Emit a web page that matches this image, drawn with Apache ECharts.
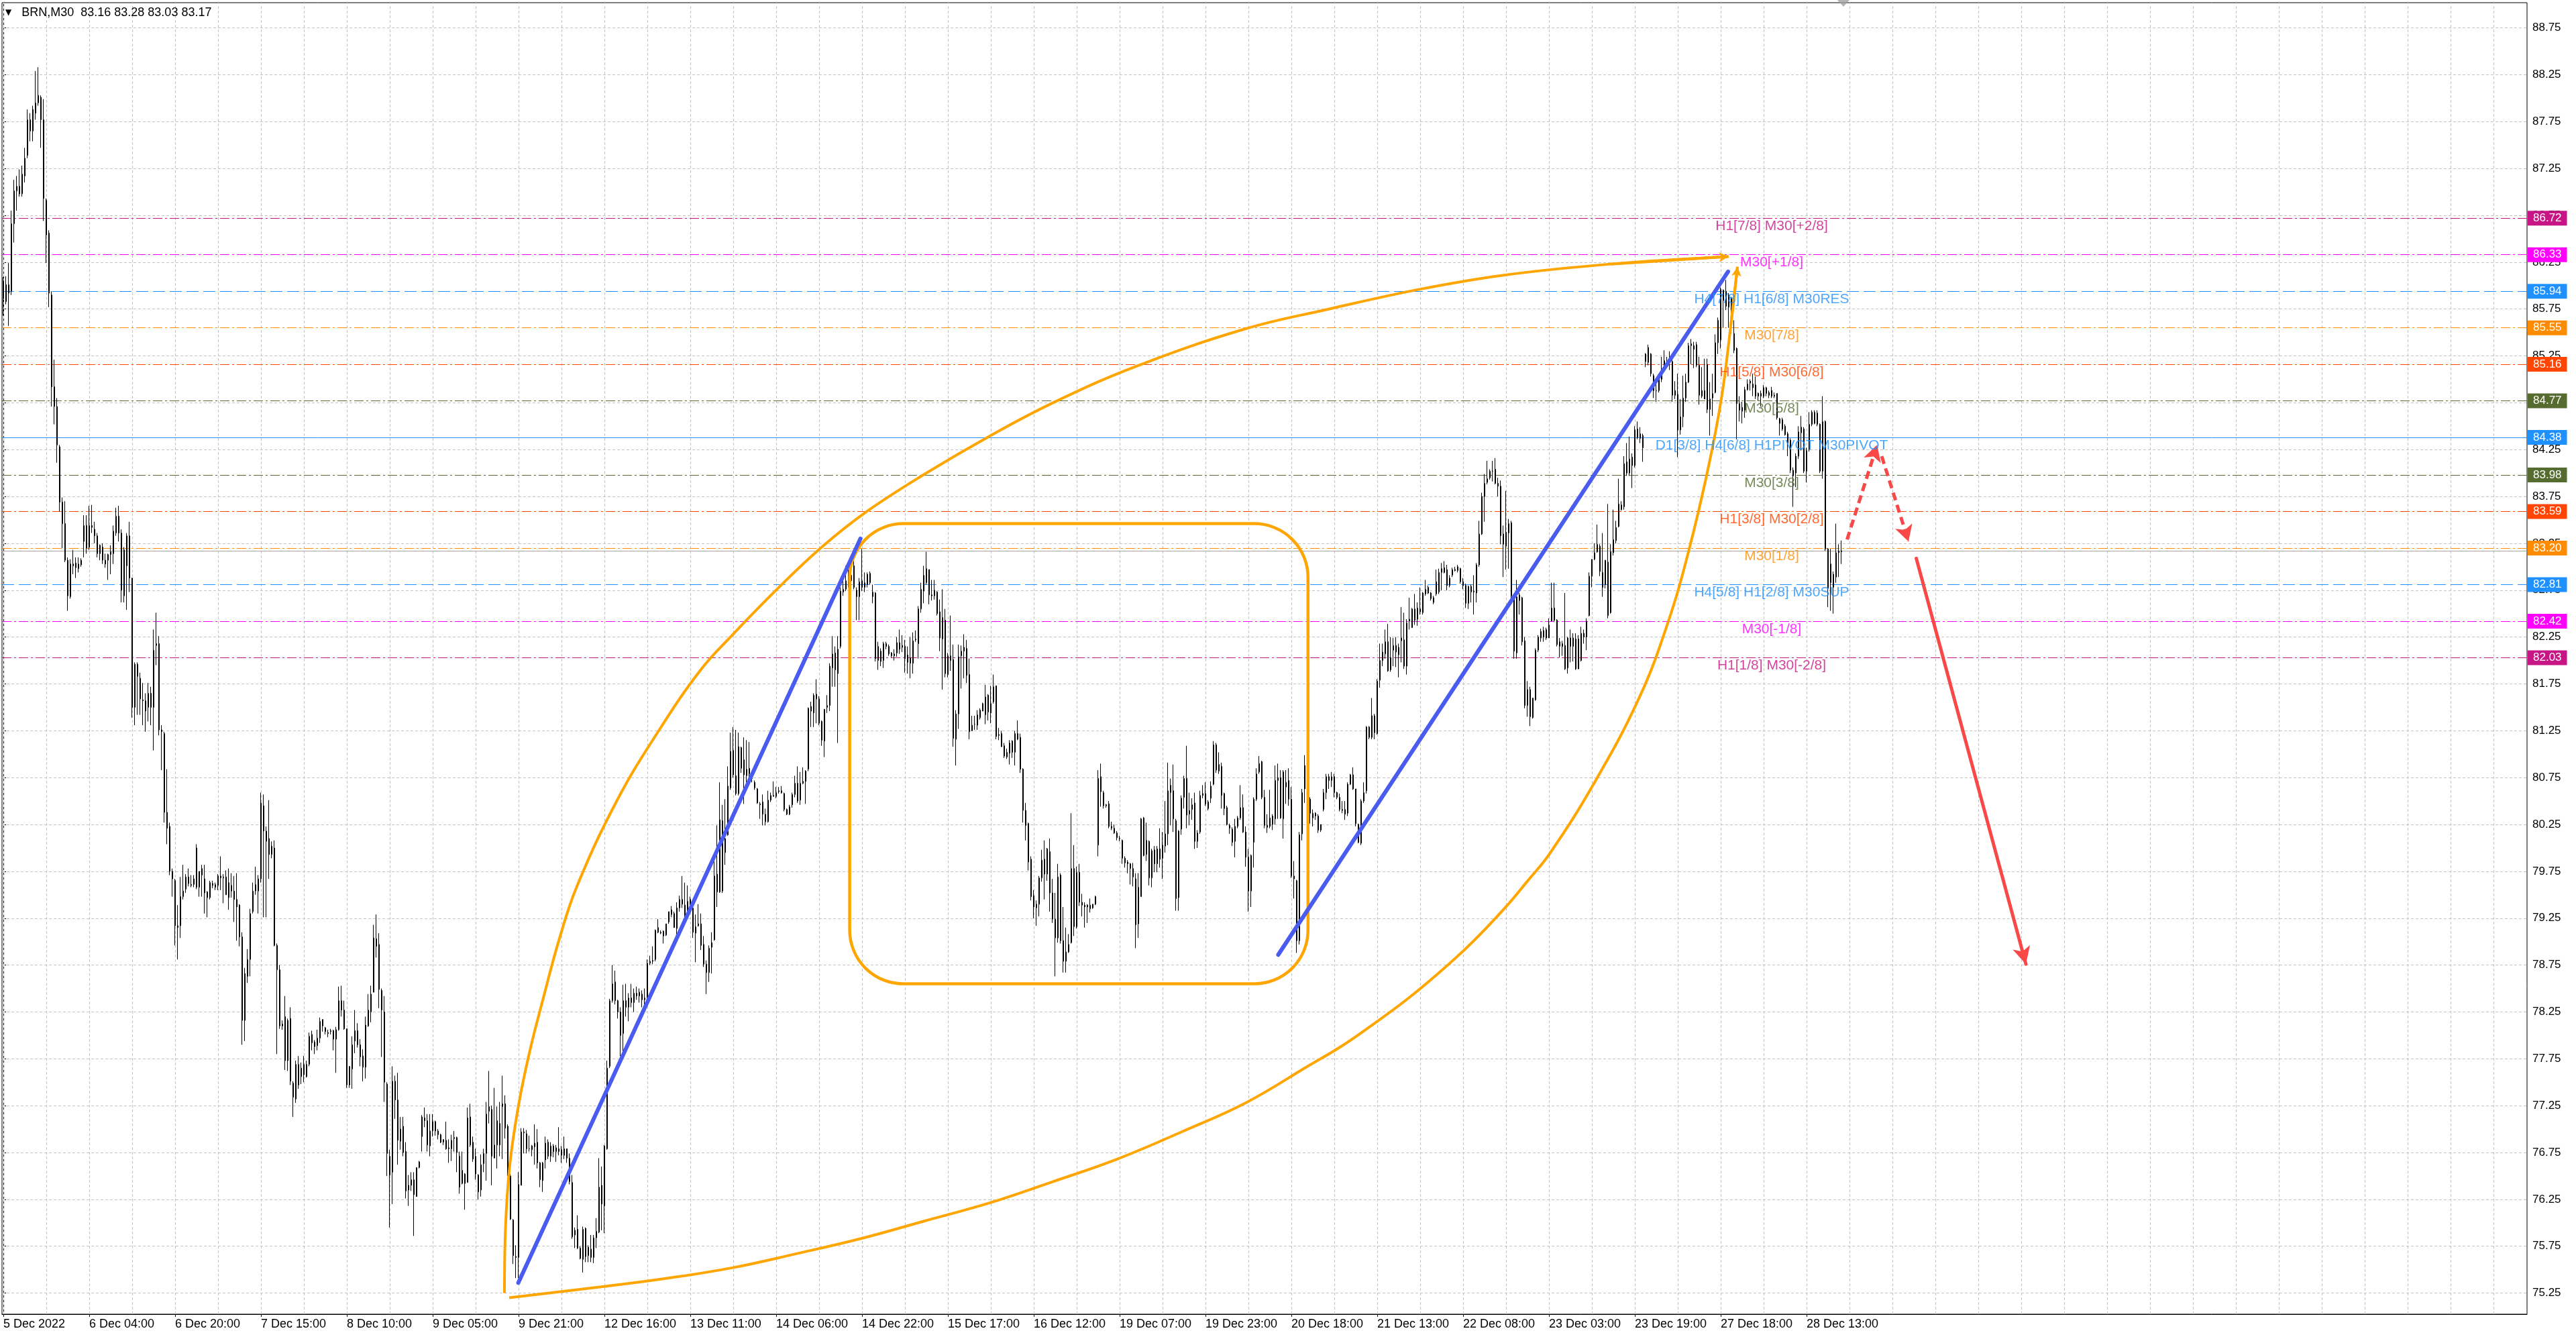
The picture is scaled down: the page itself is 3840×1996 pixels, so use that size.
<!DOCTYPE html>
<html>
<head>
<meta charset="utf-8">
<script src="https://cdn.jsdelivr.net/npm/echarts@6/dist/echarts.min.js"></script>
<style>html,body{margin:0;padding:0;background:#fff}#chart{width:3840px;height:1996px}</style>
</head>
<body>
<div id="chart"></div>
<script>
// ---------------- DATA ----------------
const symbolName = 'BRN,M30';
const xLabels = ['5 Dec 2022','6 Dec 04:00','6 Dec 20:00','7 Dec 15:00','8 Dec 10:00','9 Dec 05:00','9 Dec 21:00','12 Dec 16:00','13 Dec 11:00','14 Dec 06:00','14 Dec 22:00','15 Dec 17:00','16 Dec 12:00','19 Dec 07:00','19 Dec 23:00','20 Dec 18:00','21 Dec 13:00','22 Dec 08:00','23 Dec 03:00','23 Dec 19:00','27 Dec 18:00','28 Dec 13:00'];
const yTicks = [75.25,75.75,76.25,76.75,77.25,77.75,78.25,78.75,79.25,79.75,80.25,80.75,81.25,81.75,82.25,82.75,83.25,83.75,84.25,84.75,85.25,85.75,86.25,86.75,87.25,87.75,88.25,88.75];
// bars: [open, high, low, close]
const ohlc = [
[85.86,86.09,85.68,86.05],[86.01,86.10,85.80,85.83],[85.92,86.24,85.57,86.01],[85.94,86.80,85.90,86.66],[86.66,87.13,86.46,87.01],
[87.01,87.17,86.80,87.06],[87.06,87.24,86.95,86.98],[86.98,87.28,86.95,87.19],[87.17,87.47,87.10,87.36],[87.39,87.88,87.36,87.77],
[87.77,87.84,87.54,87.65],[87.65,87.92,87.54,87.88],[87.84,88.29,87.77,87.95],[87.95,88.33,87.92,88.03],[88.01,88.03,87.47,87.77],
[87.77,87.99,86.69,86.93],[86.91,86.93,86.24,86.54],[86.56,86.59,85.77,85.92],[85.90,85.94,84.71,84.92],[84.92,85.21,84.52,84.71],
[84.71,84.80,84.11,84.30],[84.28,84.30,83.59,83.69],[83.69,83.74,83.20,83.46],[83.46,83.70,83.05,83.07],[83.07,83.10,82.53,82.69],
[82.68,83.08,82.66,83.03],[83.03,83.18,82.92,83.01],[83.04,83.10,82.88,82.99],[82.98,83.10,82.94,83.03],[83.02,83.09,83.00,83.07],
[83.27,83.55,83.10,83.44],[83.44,83.55,83.14,83.20],[83.21,83.65,83.18,83.44],[83.44,83.66,83.36,83.42],[83.40,83.48,83.25,83.33],
[83.33,83.36,83.10,83.14],[83.14,83.24,83.07,83.23],[83.21,83.25,83.03,83.07],[83.07,83.14,82.99,83.03],[83.07,83.14,82.86,83.13],
[83.13,83.23,82.92,83.16],[83.14,83.44,83.03,83.38],[83.36,83.63,83.33,83.54],[83.54,83.65,83.27,83.36],[83.36,83.40,82.62,82.75],
[82.69,83.21,82.62,83.18],[83.01,83.36,82.54,83.33],[83.33,83.48,82.73,82.88],[82.88,82.88,81.39,81.50],[81.50,81.98,81.31,81.96],
[81.83,81.98,81.42,81.96],[81.81,81.87,81.42,81.59],[81.58,81.76,81.31,81.57],[81.57,81.65,81.24,81.46],[81.50,81.76,81.35,81.65],
[81.65,81.72,81.31,81.50],[81.50,82.33,81.04,82.11],[82.16,82.51,81.95,82.18],[82.18,82.26,81.20,81.26],[81.26,81.31,80.83,81.24],
[81.22,81.24,80.27,80.38],[80.38,80.84,80.04,80.21],[80.23,80.27,79.71,79.75],[79.75,79.78,79.48,79.67],[79.65,79.67,78.96,79.17],
[79.17,79.39,78.81,79.15],[79.17,79.69,79.04,79.48],[79.48,79.82,79.45,79.54],[79.56,79.72,79.52,79.69],[79.69,79.78,79.59,79.62],
[79.61,79.71,79.58,79.60],[79.61,79.71,79.58,79.67],[80.00,80.04,79.56,79.58],[79.58,79.75,79.48,79.75],[79.71,79.82,79.48,79.78],
[79.67,79.82,79.30,79.52],[79.53,79.54,79.26,79.47],[79.47,79.65,79.45,79.63],[79.62,79.65,79.57,79.60],[79.58,79.63,79.55,79.61],
[79.60,79.72,79.55,79.70],[79.70,79.91,79.55,79.68],[79.68,79.72,79.41,79.69],[79.69,79.76,79.50,79.50],[79.47,79.78,79.34,79.63],
[79.60,79.73,79.47,79.54],[79.54,79.70,79.21,79.45],[79.45,79.73,79.01,79.37],[79.39,79.40,78.95,79.05],[79.05,79.10,77.90,78.16],
[78.16,78.72,77.94,78.66],[78.63,78.92,78.56,78.81],[78.81,79.35,78.63,79.30],[79.32,79.63,79.30,79.54],[79.54,79.80,79.50,79.61],
[79.54,79.71,79.30,79.67],[79.67,80.59,79.63,80.48],[80.45,80.57,79.26,80.18],[80.07,80.23,79.26,80.18],[80.10,80.51,79.67,79.93],
[79.93,80.07,79.89,80.02],[80.00,80.08,78.95,78.96],[78.96,78.98,77.80,78.70],[78.70,78.75,78.07,78.10],[78.12,78.16,78.06,78.10],
[78.20,78.42,77.63,77.73],[77.73,78.18,77.62,78.16],[78.18,78.30,77.47,77.51],[77.49,77.51,77.13,77.34],[77.32,77.73,77.28,77.69],
[77.47,77.78,77.43,77.69],[77.65,77.71,77.48,77.56],[77.58,77.78,77.50,77.69],[77.69,77.73,77.55,77.56],[77.69,78.03,77.67,77.99],
[78.01,78.05,77.84,77.92],[77.88,77.95,77.80,77.93],[77.89,78.06,77.84,77.97],[77.97,78.19,77.92,78.15],[78.17,78.17,78.04,78.10],
[78.08,78.09,78.01,78.04],[78.03,78.06,77.98,78.02],[78.04,78.07,78.01,78.05],[78.05,78.06,77.84,77.96],[77.96,78.09,77.60,78.06],
[78.06,78.52,78.05,78.37],[78.37,78.53,78.20,78.27],[78.27,78.37,78.06,78.07],[78.07,78.07,77.44,77.47],[77.47,77.67,77.44,77.67],
[77.64,77.99,77.43,77.90],[77.94,78.27,77.81,78.05],[78.05,78.13,77.87,77.90],[77.90,77.96,77.67,77.77],[77.78,77.85,77.51,77.66],
[77.66,78.20,77.54,78.11],[78.10,78.44,78.09,78.27],[78.25,78.53,78.14,78.44],[78.46,79.18,78.46,79.04],[79.03,79.29,78.83,78.95],
[78.97,79.09,78.29,78.49],[78.48,78.50,77.77,78.27],[78.25,78.42,77.29,77.50],[77.48,77.50,76.50,76.74],[76.71,76.78,75.95,76.51],
[76.54,77.67,76.20,77.51],[77.51,77.57,77.11,77.31],[77.31,77.60,76.62,76.88],[76.87,77.13,76.78,77.00],[77.03,77.13,76.71,76.75],
[76.76,76.86,76.26,76.34],[76.35,76.51,76.18,76.40],[76.40,76.54,76.34,76.46],[76.46,76.54,75.86,76.30],[76.28,76.59,76.28,76.59],
[76.59,76.66,76.58,76.65],[76.92,77.15,76.76,77.13],[77.12,77.23,77.02,77.09],[77.09,77.16,76.76,76.83],[76.82,77.16,76.71,76.98],
[76.98,77.16,76.92,77.08],[77.08,77.09,76.93,76.98],[76.98,77.00,76.89,76.94],[76.94,76.95,76.85,76.86],[76.86,76.89,76.83,76.89],
[76.88,77.08,76.78,76.79],[76.80,76.89,76.64,76.79],[76.79,76.94,76.66,76.88],[76.91,76.98,76.76,76.90],[76.91,76.92,76.54,76.75],
[76.71,76.76,76.31,76.38],[76.42,76.76,76.41,76.56],[76.52,76.53,76.14,76.42],[76.43,77.23,76.43,77.12],[77.13,77.27,76.81,76.83],
[76.86,76.92,76.65,76.68],[76.71,76.79,76.46,76.52],[76.51,76.52,76.25,76.33],[76.35,76.73,76.28,76.62],[76.63,76.79,76.54,76.74],
[76.74,77.29,76.45,77.16],[77.19,77.62,77.06,77.24],[77.21,77.25,76.40,76.71],[76.69,77.44,76.69,76.83],[76.83,77.24,76.58,77.09],
[77.06,77.29,76.71,76.83],[77.27,77.57,76.68,77.24],[77.27,77.36,76.90,77.01],[77.03,77.05,76.50,76.50],[76.50,76.52,76.03,76.04],
[76.03,76.04,75.56,75.65],[75.64,75.76,75.41,75.63],[75.63,76.54,75.41,76.41],[76.40,77.01,76.40,76.97],[76.97,77.01,76.74,76.96],
[76.95,76.99,76.74,76.79],[76.79,76.93,76.76,76.79],[76.78,76.83,76.71,76.82],[76.81,77.05,76.62,76.85],[76.86,77.00,76.58,76.64],
[76.64,76.65,76.38,76.46],[76.45,76.65,76.33,76.64],[76.67,76.92,76.58,76.85],[76.86,76.89,76.68,76.71],[76.71,76.86,76.65,76.82],
[76.82,76.84,76.70,76.76],[76.76,76.83,76.65,76.80],[76.79,77.02,76.72,76.76],[76.78,76.82,76.64,76.72],[76.72,76.92,76.68,76.79],
[76.79,76.79,76.64,76.69],[76.69,76.74,76.41,76.44],[76.43,76.51,75.83,75.85],[75.87,75.95,75.73,75.92],[75.93,76.08,75.72,75.73],
[75.73,75.75,75.61,75.62],[75.61,75.96,75.47,75.93],[75.94,75.95,75.58,75.64],[75.65,75.76,75.58,75.74],[75.72,75.87,75.58,75.63],
[75.63,75.87,75.57,75.84],[75.84,76.05,75.73,75.91],[75.90,76.69,75.89,76.38],[76.40,76.60,75.92,76.20],[76.18,76.83,75.89,76.82],
[76.79,77.73,76.78,77.65],[77.67,78.39,77.65,78.37],[78.37,78.75,78.35,78.55],[78.57,78.69,78.33,78.37],[78.37,78.38,78.18,78.25],
[78.25,78.30,77.78,78.00],[78.02,78.54,77.75,78.37],[78.37,78.55,78.20,78.30],[78.30,78.45,78.15,78.40],[78.40,78.55,78.30,78.35],
[78.35,78.50,78.25,78.45],[78.45,78.52,78.38,78.42],[78.42,78.50,78.35,78.46],[78.44,78.48,78.30,78.38],[78.38,78.50,78.30,78.40],
[78.40,78.81,78.35,78.77],[78.77,78.85,78.75,78.79],[78.79,78.95,78.76,78.80],[78.81,79.13,78.79,79.12],[79.15,79.24,79.09,79.10],
[79.10,79.12,79.08,79.09],[79.11,79.12,78.98,79.06],[79.07,79.19,79.06,79.19],[79.21,79.32,79.19,79.32],[79.34,79.38,79.26,79.29],
[79.30,79.32,79.15,79.15],[79.14,79.42,79.06,79.36],[79.36,79.49,79.32,79.45],[79.45,79.70,79.36,79.40],[79.39,79.63,79.26,79.28],
[79.29,79.60,79.26,79.43],[79.45,79.48,79.34,79.36],[79.36,79.36,79.04,79.10],[79.09,79.29,78.78,79.16],[79.17,79.40,79.16,79.19],
[79.19,79.30,78.91,78.96],[78.97,79.06,78.73,78.76],[78.76,78.80,78.44,78.67],[78.67,78.96,78.57,78.93],[78.94,79.10,78.66,78.99],
[79.02,79.86,79.01,79.70],[79.72,80.24,79.37,79.53],[79.53,80.70,79.52,80.30],[80.29,80.46,79.52,79.54],[79.95,80.52,79.82,80.10],
[80.14,80.87,80.13,80.66],[80.64,81.23,80.62,81.03],[81.04,81.29,80.75,80.78],[80.77,81.26,80.56,80.58],[80.58,81.23,80.56,81.08],
[81.07,81.08,80.80,80.85],[80.94,81.18,80.47,80.78],[80.77,81.15,80.70,80.84],[80.79,81.13,80.74,80.85],[80.80,80.82,80.70,80.74],
[80.70,80.72,80.62,80.64],[80.63,80.64,80.47,80.48],[80.47,80.49,80.31,80.46],[80.49,80.57,80.24,80.36],[80.28,80.42,80.24,80.36],
[80.28,80.61,80.27,80.51],[80.51,80.59,80.49,80.56],[80.56,80.71,80.55,80.55],[80.55,80.65,80.53,80.59],[80.60,80.65,80.58,80.61],
[80.61,80.66,80.58,80.59],[80.58,80.59,80.39,80.41],[80.41,80.42,80.35,80.36],[80.36,80.46,80.35,80.44],[80.46,80.59,80.43,80.57],
[80.57,80.77,80.54,80.69],[80.69,80.87,80.48,80.50],[80.51,80.81,80.46,80.69],[80.71,80.86,80.68,80.69],[80.71,80.83,80.47,80.82],
[80.84,81.50,80.82,81.49],[81.51,81.56,81.29,81.46],[81.44,81.65,81.29,81.63],[81.64,81.80,81.33,81.59],[81.59,81.62,81.31,81.33],
[81.35,81.36,81.09,81.15],[81.14,81.48,80.97,81.48],[81.50,81.63,81.44,81.52],[81.52,81.97,81.46,81.94],[81.92,82.26,81.72,82.07],
[82.08,82.15,81.72,81.90],[81.86,82.26,81.12,82.12],[82.15,82.78,82.13,82.74],[82.73,82.92,82.69,82.76],[82.76,83.01,82.74,82.85],
[82.85,83.05,82.78,82.86],[82.85,83.05,82.84,82.91],[83.01,83.07,82.76,82.78],[82.75,82.78,82.43,82.68],[82.68,82.88,82.43,82.84],
[82.85,83.19,82.74,82.78],[82.78,82.94,82.73,82.83],[82.81,82.94,82.78,82.92],[82.93,82.95,82.81,82.83],[82.68,82.81,82.61,82.73],
[82.72,82.73,81.99,82.02],[82.00,82.20,81.90,82.15],[82.10,82.13,81.94,81.99],[82.00,82.20,81.92,82.18],[82.18,82.20,82.12,82.15],
[82.15,82.17,82.05,82.07],[82.08,82.09,82.03,82.05],[82.05,82.12,82.00,82.07],[82.08,82.25,82.04,82.19],[82.19,82.33,82.07,82.12],
[82.16,82.27,82.09,82.14],[82.15,82.22,81.87,82.02],[82.06,82.15,81.86,81.98],[81.97,82.25,81.81,82.03],[81.97,82.30,81.86,82.21],
[82.22,82.32,82.20,82.23],[82.18,82.58,82.02,82.55],[82.55,82.83,82.51,82.76],[82.74,83.01,82.61,82.91],[82.83,83.16,82.81,82.98],
[82.97,82.97,82.60,82.70],[82.70,82.86,82.64,82.69],[82.69,82.86,82.65,82.75],[82.73,82.74,82.48,82.50],[82.52,82.65,82.10,82.24],
[82.23,82.76,81.69,82.46],[82.43,82.55,81.82,81.86],[81.85,82.08,81.82,82.05],[82.05,82.48,81.89,82.00],[82.01,82.17,81.08,81.17],
[81.16,81.47,80.88,81.43],[81.43,82.17,81.27,82.04],[82.05,82.16,81.70,82.10],[82.10,82.28,81.81,82.14],[82.13,82.22,81.76,81.84],
[81.85,82.02,81.16,81.24],[81.25,81.41,81.25,81.31],[81.32,81.41,81.26,81.32],[81.31,81.47,81.26,81.42],[81.39,81.49,81.37,81.47],
[81.46,81.55,81.46,81.54],[81.42,81.74,81.32,81.61],[81.63,81.64,81.36,81.45],[81.44,81.73,81.33,81.54],[81.56,81.85,81.54,81.72],
[81.73,81.73,81.16,81.19],[81.21,81.28,81.15,81.20],[81.22,81.25,81.08,81.08],[81.09,81.12,80.96,80.98],[80.97,81.06,80.95,81.02],
[81.01,81.15,80.89,81.12],[81.14,81.15,80.96,81.02],[81.02,81.25,80.88,81.22],[81.22,81.36,81.15,81.16],[81.18,81.22,80.80,80.84],
[80.84,80.85,80.27,80.40],[80.40,80.48,80.08,80.24],[80.26,80.27,79.76,79.85],[79.88,79.91,79.44,79.48],[79.49,79.55,79.25,79.37],
[79.36,79.44,79.17,79.40],[79.40,79.70,79.27,79.68],[79.68,79.98,79.64,79.87],[79.88,80.08,79.45,79.72],[79.72,80.00,79.65,79.99],
[79.96,80.10,79.32,79.52],[79.52,79.67,79.20,79.24],[79.24,79.52,78.63,79.04],[79.04,79.83,78.99,79.69],[79.71,79.73,78.98,79.01],
[79.01,79.37,78.67,78.79],[78.79,79.15,78.67,78.89],[78.89,79.08,78.88,78.97],[78.99,80.37,78.98,79.78],[79.78,80.03,79.06,79.16],
[79.16,79.80,79.14,79.74],[79.74,79.83,79.38,79.42],[79.42,79.51,79.27,79.39],[79.39,79.42,79.15,79.37],[79.39,79.40,79.20,79.37],
[79.35,79.46,79.31,79.39],[79.36,79.40,79.35,79.40],[79.40,79.49,79.39,79.48],[80.03,80.83,79.91,80.74],[80.76,80.90,80.44,80.60],
[80.59,80.61,80.42,80.45],[80.46,80.47,80.43,80.45],[80.47,80.50,80.21,80.23],[80.23,80.28,80.19,80.21],[80.21,80.25,80.15,80.16],
[80.16,80.18,80.08,80.11],[80.10,80.13,80.07,80.10],[80.08,80.09,79.83,79.89],[79.89,79.91,79.79,79.84],[79.85,79.87,79.73,79.83],
[79.83,79.84,79.61,79.78],[79.78,79.84,79.59,79.69],[79.67,79.73,78.93,79.18],[79.19,79.73,79.04,79.58],[79.48,80.32,79.48,80.31],
[80.32,80.33,79.91,79.92],[79.93,80.27,79.86,80.08],[80.07,80.08,79.60,79.68],[79.68,79.99,79.58,79.97],[79.98,80.02,79.74,79.83],
[79.83,80.02,79.74,79.99],[79.99,80.21,79.79,79.88],[79.89,80.17,79.67,80.03],[80.02,80.50,79.95,80.15],[80.15,80.91,80.03,80.61],
[80.59,80.74,80.24,80.67],[80.61,80.89,80.17,80.31],[80.29,80.31,79.33,79.46],[79.47,80.19,79.33,80.18],[80.20,80.56,80.14,80.53],
[80.54,80.77,80.42,80.74],[80.74,81.09,80.21,80.35],[80.36,80.59,80.24,80.40],[80.41,80.53,80.30,80.46],[80.48,80.59,79.99,80.07],
[80.07,80.19,80.00,80.16],[80.17,80.61,80.15,80.56],[80.56,80.67,80.53,80.58],[80.58,80.70,80.45,80.47],[80.49,80.51,80.40,80.42],
[80.53,80.71,80.48,80.66],[80.68,81.14,80.67,81.10],[81.10,81.12,80.80,80.83],[80.82,81.02,80.79,80.89],[80.87,80.91,80.42,80.56],
[80.58,80.59,80.35,80.42],[80.43,80.45,80.24,80.25],[80.24,80.26,80.15,80.21],[80.20,80.22,80.02,80.06],[80.07,80.31,79.90,80.23],
[80.23,80.34,80.21,80.32],[80.32,80.67,80.30,80.43],[80.43,80.57,80.16,80.17],[80.17,80.23,79.80,79.90],[79.90,79.99,79.32,79.54],
[79.54,79.93,79.37,79.92],[80.06,80.54,79.79,80.52],[80.52,80.85,80.50,80.79],[80.81,80.98,80.79,80.90],[80.92,80.93,80.52,80.54],
[80.54,80.62,80.21,80.24],[80.24,80.36,80.16,80.22],[80.23,80.62,80.21,80.32],[80.34,80.36,80.19,80.25],[80.31,80.88,80.25,80.72],
[80.72,80.90,80.31,80.75],[80.75,80.83,80.31,80.32],[80.31,80.83,80.10,80.81],[80.65,80.83,80.47,80.70],[80.72,80.85,80.45,80.52],
[80.52,80.65,79.68,79.70],[79.70,79.86,79.46,79.67],[79.65,79.66,78.88,79.01],[79.01,80.17,78.97,80.14],[80.15,80.63,80.08,80.59],
[80.63,80.99,80.48,80.88],[80.88,80.95,80.45,80.52],[80.52,80.54,80.26,80.37],[80.32,80.41,80.23,80.37],[80.34,80.38,80.30,80.37],
[80.34,80.36,80.16,80.19],[80.19,80.25,80.17,80.25],[80.41,80.63,80.39,80.59],[80.59,80.79,80.52,80.76],[80.76,80.79,80.63,80.72],
[80.72,80.81,80.65,80.76],[80.76,80.79,80.54,80.59],[80.59,80.60,80.52,80.54],[80.54,80.58,80.39,80.41],[80.41,80.50,80.37,80.40],
[80.41,80.50,80.30,80.36],[80.37,80.70,80.34,80.68],[80.68,80.79,80.67,80.78],[80.78,80.86,80.62,80.63],[80.63,80.63,80.23,80.26],
[80.25,80.26,80.05,80.06],[80.05,80.52,80.03,80.50],[80.50,80.70,80.48,80.59],[80.61,81.30,80.58,81.29],[81.29,81.30,81.16,81.18],
[81.18,81.60,81.16,81.41],[81.41,81.43,81.16,81.23],[81.22,81.80,81.21,81.78],[81.79,82.18,81.71,82.00],[82.00,82.18,81.94,82.09],
[82.07,82.33,82.02,82.20],[82.20,82.39,81.88,81.89],[81.90,82.25,81.88,82.03],[82.11,82.24,81.94,82.16],[82.16,82.25,81.93,82.09],
[82.06,82.18,81.82,82.14],[82.21,82.57,81.98,82.24],[82.22,82.51,81.91,81.94],[81.94,82.44,81.85,82.40],[82.42,82.67,82.33,82.44],
[82.35,82.56,82.35,82.55],[82.55,82.71,82.38,82.43],[82.44,82.62,82.37,82.56],[82.55,82.78,82.49,82.52],[82.51,82.73,82.49,82.72],
[82.71,82.86,82.69,82.76],[82.78,82.80,82.71,82.72],[82.72,82.73,82.64,82.66],[82.67,82.69,82.60,82.62],[82.71,82.97,82.69,82.84],
[82.73,82.98,82.71,82.94],[82.94,83.04,82.75,82.98],[82.99,83.06,82.93,82.94],[82.97,83.02,82.75,82.80],[82.80,82.91,82.78,82.88],
[82.91,82.99,82.89,82.97],[82.97,83.00,82.95,82.96],[82.96,83.02,82.94,83.00],[82.98,82.99,82.82,82.84],[82.84,82.88,82.76,82.80],
[82.80,82.82,82.56,82.61],[82.61,82.80,82.55,82.79],[82.79,82.81,82.62,82.73],[82.74,82.91,82.49,82.73],[82.72,83.04,82.62,83.02],
[83.02,83.49,83.00,83.35],[83.35,83.79,83.34,83.75],[83.75,83.99,83.48,83.89],[83.90,84.13,83.88,83.94],[83.95,84.04,83.93,84.02],
[84.02,84.13,83.91,84.02],[84.04,84.16,83.88,83.89],[83.89,83.95,83.75,83.86],[83.86,83.92,83.24,83.33],[83.24,83.44,82.89,83.35],
[83.22,83.81,82.97,83.37],[83.36,83.51,82.98,83.46],[83.47,83.49,82.65,82.69],[82.69,82.71,82.02,82.10],[82.08,82.86,82.02,82.68],
[82.70,82.72,82.49,82.64],[82.67,82.68,82.16,82.20],[82.21,82.25,81.49,81.52],[81.52,81.78,81.40,81.69],[81.69,81.72,81.30,81.40],
[81.39,81.60,81.38,81.60],[81.58,82.13,81.57,82.11],[82.11,82.27,82.09,82.25],[82.24,82.34,82.20,82.31],[82.25,82.36,82.20,82.32],
[82.33,82.35,82.22,82.24],[82.24,82.45,82.24,82.38],[82.42,82.83,82.42,82.56],[82.56,82.83,82.41,82.43],[82.43,82.44,82.15,82.17],
[82.15,82.24,82.03,82.20],[82.18,82.21,82.05,82.15],[82.16,82.72,81.90,81.91],[81.92,82.25,81.86,82.24],[82.24,82.33,81.98,82.15],
[82.15,82.29,81.99,82.24],[82.23,82.29,81.90,81.91],[81.91,82.27,81.91,82.23],[82.00,82.36,81.99,82.29],[82.29,82.33,82.18,82.25],
[82.25,82.45,82.11,82.42],[82.48,82.94,82.47,82.90],[82.90,83.08,82.78,83.08],[83.08,83.25,83.07,83.15],[83.16,83.45,83.15,83.24],
[83.22,83.24,82.90,82.95],[82.94,83.36,82.68,82.78],[82.81,83.07,82.77,83.07],[83.05,83.67,82.45,82.48],[82.51,83.24,82.50,83.16],
[83.15,83.61,83.12,83.29],[83.28,83.49,83.25,83.42],[83.43,83.94,83.42,83.67],[83.61,83.70,83.60,83.66],[83.64,84.18,83.61,84.10],
[84.12,84.32,83.97,84.00],[84.00,84.39,83.97,84.15],[84.17,84.21,83.84,84.08],[84.08,84.50,84.06,84.46],[84.47,84.55,84.36,84.38],
[84.37,84.49,84.32,84.42],[84.40,84.42,84.12,84.27],[85.19,85.28,85.13,85.27],[85.18,85.37,85.15,85.34],[85.27,85.28,85.03,85.06],
[85.04,85.06,84.80,84.88],[84.88,84.95,84.76,84.88],[84.88,85.03,84.86,85.00],[85.00,85.24,84.97,85.10],[85.12,85.31,85.10,85.20],
[85.15,85.24,85.13,85.20],[85.20,85.30,85.10,85.18],[85.19,85.25,84.76,84.83],[84.88,84.98,84.79,84.83],[84.84,85.06,84.17,84.46],
[84.46,84.79,84.41,84.60],[84.60,85.04,84.49,84.80],[84.80,85.06,84.76,84.97],[84.97,85.39,84.96,85.36],[85.36,85.43,85.16,85.38],
[85.32,85.40,85.12,85.36],[85.37,85.40,85.13,85.15],[85.15,85.24,84.73,84.83],[84.82,85.13,84.80,84.88],[84.88,85.22,84.79,84.79],
[85.16,85.22,84.64,84.68],[84.79,84.97,84.40,84.68],[84.80,85.06,84.61,84.85],[84.86,85.48,84.85,85.39],[85.39,85.66,85.27,85.63],
[85.42,85.98,85.33,85.96],[85.95,85.96,85.55,85.84],[85.94,86.06,85.74,85.78],[85.77,85.92,85.55,85.90],[85.87,85.88,85.49,85.57],
[85.49,85.63,85.28,85.31],[85.33,85.34,84.36,84.74],[84.74,84.82,84.55,84.67],[84.70,84.76,84.53,84.66],[84.67,84.92,84.59,84.89],
[84.89,85.00,84.88,84.95],[84.98,85.00,84.88,84.96],[84.95,85.06,84.82,84.91],[84.94,85.03,84.79,84.82],[84.85,84.86,84.77,84.82],
[84.82,84.88,84.71,84.85],[84.82,84.94,84.80,84.91],[84.91,84.92,84.82,84.85],[84.86,84.88,84.80,84.83],[84.88,84.92,84.80,84.82],
[84.83,84.86,84.80,84.82],[84.85,84.85,84.57,84.59],[84.58,84.59,84.40,84.53],[84.57,84.59,84.45,84.47],[84.50,84.52,84.40,84.41],
[84.42,84.44,84.18,84.32],[84.35,84.37,84.00,84.03],[84.03,84.06,83.64,83.97],[84.00,84.21,83.85,84.18],[84.18,84.50,84.15,84.44],
[84.43,84.61,84.24,84.49],[84.47,84.49,84.00,84.02],[84.02,84.27,83.90,84.24],[84.25,84.65,84.23,84.52],[84.52,84.67,84.50,84.65],
[84.53,84.67,84.52,84.65],[84.64,84.67,84.50,84.52],[84.52,84.53,84.00,84.02],[84.02,84.82,83.94,84.55],[84.55,84.56,83.17,83.19],
[83.19,83.20,82.57,82.77],[82.83,83.19,82.53,83.03],[82.78,82.95,82.50,82.92],[82.89,83.46,82.83,83.15],[83.15,83.24,82.89,83.17],
[83.16,83.28,83.03,83.17]
];
// Murrey levels
const levelPrices = [86.72, 86.33, 85.94, 85.55, 85.16, 84.77, 84.38, 83.98, 83.59, 83.20, 82.81, 82.42, 82.03];
const levelNames = ['H1[7/8] M30[+2/8]','M30[+1/8]','H4[7/8] H1[6/8] M30RES','M30[7/8]','H1[5/8] M30[6/8]','M30[5/8]','D1[3/8] H4[6/8] H1PIVOT M30PIVOT','M30[3/8]','H1[3/8] M30[2/8]','M30[1/8]','H4[5/8] H1[2/8] M30SUP','M30[-1/8]','H1[1/8] M30[-2/8]'];
const bidPrice = 83.17;
// drawn objects: [bar index, price]
const trendLine1 = [[191.9, 75.36], [319.4, 83.30]];
const trendLine2 = [[475.1, 78.86], [642.75, 86.15]];
const upperArc = [[186.75,75.25],[187.1,75.92],[188.75,76.62],[192.1,77.27],[196.25,77.84],[201.25,78.40],[207.1,79.02],[213.75,79.59],[228.75,80.51],[244,81.24],[259.6,81.89],[271.6,82.27],[288.3,82.76],[305,83.21],[321.8,83.59],[343.4,83.99],[367.3,84.39],[391.2,84.75],[422.3,85.14],[463,85.54],[494,85.75],[527.6,85.96],[558.7,86.11],[598.9,86.23],[642.9,86.31]];
const lowerArc = [[188.5,75.20],[223.75,75.32],[247.7,75.41],[271.6,75.52],[295.5,75.67],[319.4,75.83],[343.4,76.02],[367.3,76.21],[391.2,76.44],[415.1,76.68],[439.1,76.97],[463,77.28],[486.7,77.68],[499.0,77.89],[510.6,78.12],[522.9,78.38],[535.1,78.67],[547.3,78.99],[559.6,79.36],[568.1,79.65],[576.3,79.94],[592.6,80.68],[609.6,81.60],[620.4,82.41],[628,83.16],[635.4,84.06],[640.4,84.82],[643.75,85.57],[646.25,86.20]];
const rangeBox = [[315.4, 83.46], [486.2, 78.55]];
const forecastUp = [[687.1, 83.29], [698.3, 84.30]];
const forecastDown = [[700.0, 84.18], [710.0, 83.27]];
const forecastMain = [[712.9, 83.09], [753.75, 78.76]];
const shiftMarkerBar = 685.75;

// ---------------- LAYOUT / STYLE ----------------
const totalSlots = 941;
const labelEvery = 32;
const gridEvery = 16;
const levelTextBar = 659;
const yMin = 75.025, yMax = 89.019;
const levelColors = ['#C71585','#FF00FF','#1E90FF','#FF8C00','#FF4500','#556B2F','#1E90FF','#556B2F','#FF4500','#FF8C00','#1E90FF','#FF00FF','#C71585'];
const DASHDOT = [14, 4, 3, 4], DASHED = [18, 7];
const levelDash = [DASHDOT, DASHDOT, DASHED, DASHDOT, DASHDOT, DASHDOT, 'solid', DASHDOT, DASHDOT, DASHDOT, DASHED, DASHDOT, DASHDOT];
const FONT = 'Liberation Sans';
const ORANGE = '#FFA500', BLUE = '#4A5CF0', RED = '#F84848';

const cats = [];
for (let i = 0; i < totalSlots; i++) cats.push(i);
const vGrid = [];
for (let b = 0; b < totalSlots; b += gridEvery) vGrid.push(b);
const showLabel = (i) => i % labelEvery === 0 && (i / labelEvery) < xLabels.length;
const last = ohlc[ohlc.length - 1];

const chart = echarts.init(document.getElementById('chart'), null, {renderer: 'canvas'});
const option = {
  animation: false,
  backgroundColor: '#ffffff',
  textStyle: {fontFamily: FONT},
  graphic: [{
    type: 'text', left: 8, top: 10, z: 100,
    style: {
      text: '{t|▼}   ' + symbolName + '  ' + last.map(v => v.toFixed(2)).join(' '),
      rich: {t: {fontSize: 12, fill: '#000', fontFamily: 'DejaVu Sans'}},
      font: '18px "Liberation Sans"', fill: '#000'
    }
  }],
  grid: {left: 3, right: 73, top: 4, bottom: 37, show: true, borderColor: '#000', borderWidth: 1, backgroundColor: '#fff'},
  xAxis: [{
    type: 'category', data: cats, boundaryGap: true,
    axisLine: {show: true, lineStyle: {color: '#000', width: 1}},
    axisTick: {show: true, alignWithLabel: true, interval: (i) => showLabel(i), length: 4, lineStyle: {color: '#000'}},
    axisLabel: {interval: (i) => showLabel(i), formatter: (v, i) => xLabels[Math.round(Number(v) / labelEvery)] || '', align: 'left', margin: 6, fontSize: 18, color: '#000', fontFamily: FONT},
    splitLine: {show: false}
  }, {
    type: 'value', min: -0.5, max: totalSlots - 0.5, show: false
  }],
  yAxis: [{
    type: 'value', position: 'right', min: yMin, max: yMax, scale: true,
    axisLine: {show: true, lineStyle: {color: '#000', width: 1}},
    axisTick: {show: true, customValues: yTicks, length: 4, lineStyle: {color: '#000'}},
    axisLabel: {customValues: yTicks, formatter: (v) => Number(v).toFixed(2), fontSize: 17, margin: 8, color: '#000', fontFamily: FONT},
    splitLine: {show: false}
  }],
  series: [
    { // chart grid
      type: 'line', xAxisIndex: 1, yAxisIndex: 0, data: [], silent: true, clip: false,
      markLine: {
        silent: true, z: 1, symbol: 'none', animation: false, label: {show: false},
        lineStyle: {color: '#C4C4C4', type: [4, 3], width: 1},
        data: yTicks.map(v => ({yAxis: v})).concat(vGrid.map(b => ({xAxis: b})))
      }
    },
    { // Murrey levels + bid line + price boxes
      type: 'line', xAxisIndex: 1, yAxisIndex: 0, data: [], silent: true, clip: false,
      markLine: {
        silent: true, z: 2, symbol: 'none', animation: false,
        data: [{yAxis: bidPrice, lineStyle: {color: '#A8A8A8', type: 'solid', width: 1}, label: {show: false}}].concat(
          levelPrices.map((p, i) => ({
            yAxis: p,
            lineStyle: {color: levelColors[i], type: levelDash[i], width: 1},
            label: {show: true, position: 'end', distance: 1, formatter: p.toFixed(2), backgroundColor: levelColors[i],
                    color: '#ffffff', padding: [3, 8, 2, 8], fontSize: 17, fontFamily: FONT}
          })))
      }
    },
    { // candles
      type: 'candlestick', xAxisIndex: 0, yAxisIndex: 0, z: 3, large: false, progressive: 0, barWidth: 2,
      data: ohlc.map(r => [r[0], r[3], r[2], r[1]]),
      itemStyle: {color: '#ffffff', color0: '#000000', borderColor: '#000000', borderColor0: '#000000', borderWidth: 1}
    },
    { // range box
      type: 'custom', xAxisIndex: 1, yAxisIndex: 0, z: 4, silent: true, clip: false,
      data: [[rangeBox[0][0], rangeBox[0][1], rangeBox[1][0], rangeBox[1][1]]],
      renderItem: (params, api) => {
        const p0 = api.coord([api.value(0), api.value(1)]);
        const p1 = api.coord([api.value(2), api.value(3)]);
        return {type: 'rect', shape: {x: p0[0], y: p0[1], width: p1[0] - p0[0], height: p1[1] - p0[1], r: 80},
                style: {fill: 'none', stroke: ORANGE, lineWidth: 4.5}};
      }
    },
    { // upper arc
      type: 'line', xAxisIndex: 1, yAxisIndex: 0, z: 4, silent: true, clip: false, smooth: 0.4, symbol: 'none',
      data: upperArc, lineStyle: {color: ORANGE, width: 4},
      markLine: {silent: true, z: 4, symbol: ['none', 'arrow'], symbolSize: [11, 14], label: {show: false},
        lineStyle: {color: ORANGE, width: 4, type: 'solid'},
        data: [[{coord: upperArc[upperArc.length - 2]}, {coord: upperArc[upperArc.length - 1]}]]}
    },
    { // lower arc
      type: 'line', xAxisIndex: 1, yAxisIndex: 0, z: 4, silent: true, clip: false, smooth: 0.4, symbol: 'none',
      data: lowerArc, lineStyle: {color: ORANGE, width: 4},
      markLine: {silent: true, z: 4, symbol: ['none', 'arrow'], symbolSize: [11, 14], label: {show: false},
        lineStyle: {color: ORANGE, width: 4, type: 'solid'},
        data: [[{coord: lowerArc[lowerArc.length - 2]}, {coord: lowerArc[lowerArc.length - 1]}]]}
    },
    { // trend line 1
      type: 'line', xAxisIndex: 1, yAxisIndex: 0, z: 5, silent: true, symbol: 'none',
      data: trendLine1, lineStyle: {color: BLUE, width: 6, cap: 'round'}
    },
    { // trend line 2
      type: 'line', xAxisIndex: 1, yAxisIndex: 0, z: 5, silent: true, symbol: 'none',
      data: trendLine2, lineStyle: {color: BLUE, width: 6, cap: 'round'}
    },
    { // dashed forecast arrows
      type: 'line', xAxisIndex: 1, yAxisIndex: 0, data: [], silent: true, clip: false,
      markLine: {silent: true, z: 5, symbol: ['none', 'arrow'], symbolSize: [20, 24], label: {show: false},
        lineStyle: {color: RED, width: 5, type: [12, 7]},
        data: [[{coord: forecastUp[0]}, {coord: forecastUp[1]}], [{coord: forecastDown[0]}, {coord: forecastDown[1]}]]}
    },
    { // solid forecast arrow
      type: 'line', xAxisIndex: 1, yAxisIndex: 0, data: [], silent: true, clip: false,
      markLine: {silent: true, z: 5, symbol: ['none', 'arrow'], symbolSize: [20, 26], label: {show: false},
        lineStyle: {color: RED, width: 5, type: 'solid', cap: 'round'},
        data: [[{coord: forecastMain[0]}, {coord: forecastMain[1]}]]}
    },
    { // level texts
      type: 'scatter', xAxisIndex: 1, yAxisIndex: 0, z: 6, silent: true, symbolSize: 1,
      itemStyle: {color: 'rgba(0,0,0,0)'},
      data: levelPrices.map((p, i) => ({
        value: [levelTextBar, p],
        label: {show: true, position: 'bottom', distance: 1, formatter: levelNames[i], color: levelColors[i], fontSize: 21, fontFamily: FONT}
      }))
    },
    { // chart shift marker
      type: 'scatter', xAxisIndex: 1, yAxisIndex: 0, z: 7, silent: true, clip: false,
      symbol: 'triangle', symbolRotate: 180, symbolSize: [18, 10], symbolOffset: [0, 1],
      itemStyle: {color: '#A0A0A0'},
      data: [[shiftMarkerBar, yMax]]
    }
  ]
};
chart.setOption(option);
</script>
</body>
</html>
